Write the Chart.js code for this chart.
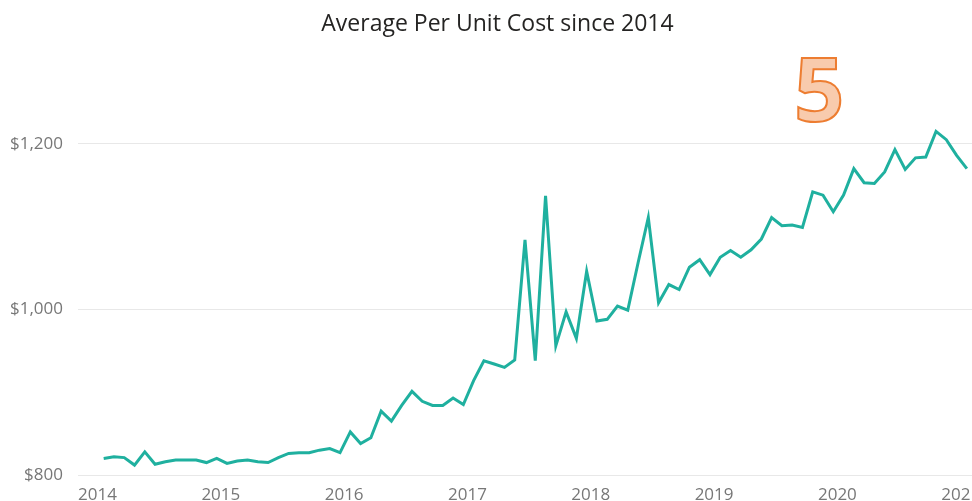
<!DOCTYPE html>
<html>
<head>
<meta charset="utf-8">
<title>Average Per Unit Cost since 2014</title>
<script src="https://cdn.jsdelivr.net/npm/chart.js@4.4.1/dist/chart.umd.min.js"></script>
<style>
  html, body { margin: 0; padding: 0; background: #fff; }
  #wrap { position: relative; width: 972px; height: 501px; overflow: hidden; }
  #chartTitle {
    position: absolute; top: 8px; left: 23px; right: 0;
    text-align: center; color: #252423;
    font: 400 23px/28px 'Open Sans', sans-serif;
  }
  #badge {
    position: absolute; left: 794px; top: 42px;
    font: 700 88px/90px 'Open Sans', sans-serif;
    color: #f8cbad; -webkit-text-stroke: 2px #ed7d31;
  }
</style>
</head>
<body>
<div id="wrap">
  <canvas id="costChart"></canvas>
  <div id="chartTitle">Average Per Unit Cost since 2014</div>
  <div id="badge">5</div>
</div>
<script>
// monthly series, Jan 2014 .. Jan 2021
var startYear = 2014;
var monthNames = ['Jan', 'Feb', 'Mar', 'Apr', 'May', 'Jun', 'Jul', 'Aug', 'Sep', 'Oct', 'Nov', 'Dec'];
var yearTicks = [2014, 2015, 2016, 2017, 2018, 2019, 2020, 2021];
var costTicks = [800, 1000, 1200];
var avgUnitCost = [
    820, 822, 821, 812, 828, 813, 816, 818, 818, 818,
    815, 820, 814, 817, 818, 816, 815, 821, 826, 827,
    827, 830, 832, 827, 852, 838, 845, 877, 865, 884,
    901, 889, 884, 884, 893, 885, 914, 938, 934, 930,
    939, 1084, 938, 1137, 956, 997, 965, 1046, 986, 988,
    1004, 999, 1056, 1111, 1008, 1030, 1024, 1051, 1060, 1042,
    1063, 1071, 1063, 1072, 1085, 1111, 1101, 1102, 1099, 1142,
    1138, 1118, 1138, 1170, 1153, 1152, 1166, 1193, 1169, 1183,
    1184, 1215, 1205, 1186, 1170
];

var months = [];
for (var i = 0; i < avgUnitCost.length; i++) {
    months.push(monthNames[i % 12] + ' ' + (startYear + Math.floor(i / 12)));
}

document.addEventListener('DOMContentLoaded', function () {
    Chart.defaults.font.family = "'Open Sans', sans-serif";

    // x is months since Jan of startYear; points sit a bit past the month start
    var points = avgUnitCost.map(function (v, i) {
        return { x: i + 0.6, y: v, label: months[i] };
    });

    new Chart(document.getElementById('costChart'), {
        type: 'line',
        data: {
            datasets: [{
                label: 'Average Per Unit Cost',
                data: points,
                borderColor: '#1fb09f',
                borderWidth: 3,
                pointRadius: 0,
                tension: 0
            }]
        },
        options: {
            responsive: true,
            maintainAspectRatio: false,
            animation: false,
            // title is an html element above, leave room for it
            layout: { padding: { top: 61 } },
            plugins: {
                legend: { display: false },
                title: { display: false }
            },
            scales: {
                x: {
                    type: 'linear',
                    min: -1.9,
                    max: 85.1,
                    grid: { display: false },
                    border: { display: false },
                    afterBuildTicks: function (scale) {
                        scale.ticks = yearTicks.map(function (y) {
                            return { value: (y - startYear) * 12 };
                        });
                    },
                    afterFit: function (scale) {
                        scale.paddingRight = 0;
                        scale.height = 26;
                    },
                    ticks: {
                        color: '#777',
                        font: { size: 17 },
                        padding: 2,
                        maxRotation: 0,
                        callback: function (value) {
                            return String(startYear + value / 12);
                        }
                    }
                },
                y: {
                    min: 800,
                    max: 1300,
                    grid: { color: '#e8e8e8', drawTicks: false },
                    border: { display: false },
                    afterBuildTicks: function (scale) {
                        scale.ticks = costTicks.map(function (v) { return { value: v }; });
                    },
                    afterFit: function (scale) {
                        scale.width = 78;
                    },
                    ticks: {
                        color: '#777',
                        font: { size: 17 },
                        padding: 15,
                        callback: function (value) {
                            return '$' + value.toLocaleString('en-US');
                        }
                    }
                }
            }
        }
    });
});
</script>
</body>
</html>
